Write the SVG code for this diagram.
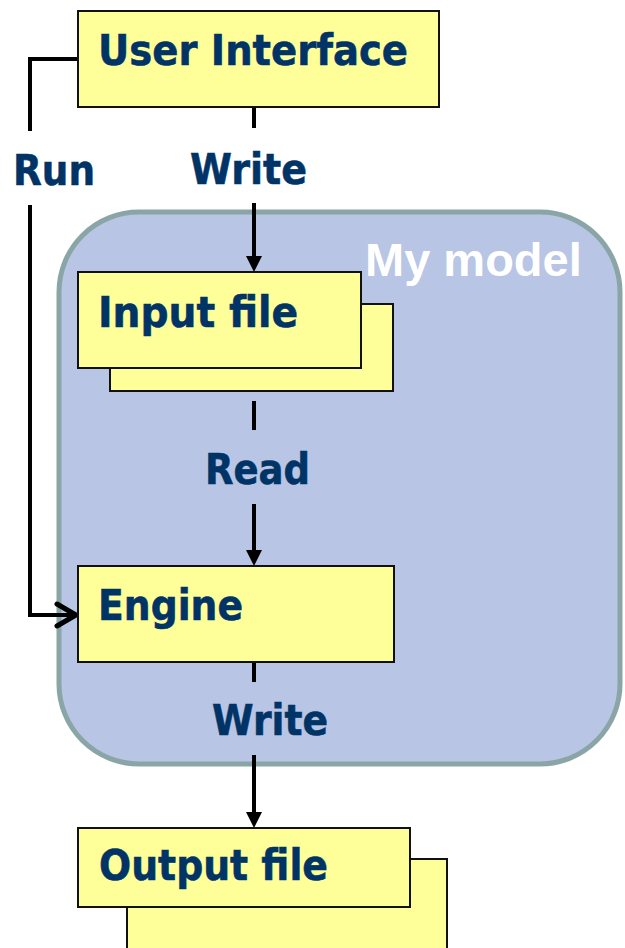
<svg xmlns="http://www.w3.org/2000/svg" width="625" height="948" viewBox="0 0 625 948">
<defs>
<style>
.box{fill:#FFFF99;stroke:#111;stroke-width:2}
.lbl{font-family:"DejaVu Sans","Liberation Sans",sans-serif;font-weight:bold;font-size:43px;fill:#003366;stroke:#003366;stroke-width:0.6}
.ln{stroke:#000;stroke-width:4;fill:none}
.ah{fill:#000}
</style>
</defs>
<rect width="625" height="948" fill="#fff"/>
<g id="mymodel">
<rect x="59" y="212" width="561" height="552" rx="80" ry="80" fill="#B8C5E4" stroke="#8AA5A6" stroke-width="5"/>
<text x="365" y="276" font-family="Liberation Sans,Arial,sans-serif" font-weight="bold" font-size="47" fill="#fff">My model</text>
</g>
<g id="connectors">
<path class="ln" d="M78,59 H30 V131"/>
<path class="ln" d="M30,205 V615 H76"/>
<path d="M57,604 L76,615 L57,626" fill="none" stroke="#000" stroke-width="5" stroke-linecap="round" stroke-linejoin="miter"/>
<path class="ln" d="M254,107 V128"/>
<path class="ln" d="M254,203 V258"/>
<path class="ah" d="M246,256 L262,256 L254,272 Z"/>
<path class="ln" d="M254,401 V430"/>
<path class="ln" d="M254,504 V552"/>
<path class="ah" d="M246,550 L262,550 L254,566 Z"/>
<path class="ln" d="M254,662 V682"/>
<path class="ln" d="M254,755 V814"/>
<path class="ah" d="M246,812 L262,812 L254,828 Z"/>
<text class="lbl" x="13" y="185" textLength="82" lengthAdjust="spacingAndGlyphs">Run</text>
<text class="lbl" x="190" y="184" textLength="117" lengthAdjust="spacingAndGlyphs">Write</text>
<text class="lbl" x="205" y="484" textLength="105" lengthAdjust="spacingAndGlyphs">Read</text>
<text class="lbl" x="212" y="735" textLength="116" lengthAdjust="spacingAndGlyphs">Write</text>
</g>
<g id="userinterface">
<rect class="box" x="78" y="11" width="361" height="96"/>
<text class="lbl" x="98" y="65" textLength="310" lengthAdjust="spacingAndGlyphs">User Interface</text>
</g>
<g id="inputfile">
<rect class="box" x="110" y="304" width="283" height="87"/>
<rect class="box" x="78" y="272" width="283" height="96"/>
<text class="lbl" x="98" y="327" textLength="200" lengthAdjust="spacingAndGlyphs">Input file</text>
</g>
<g id="engine">
<rect class="box" x="78" y="566" width="316" height="96"/>
<text class="lbl" x="98" y="620" textLength="145" lengthAdjust="spacingAndGlyphs">Engine</text>
</g>
<g id="outputfile">
<rect class="box" x="127" y="859" width="320" height="100"/>
<rect class="box" x="78" y="828" width="332" height="79"/>
<text class="lbl" x="99" y="880" textLength="229" lengthAdjust="spacingAndGlyphs">Output file</text>
</g>
</svg>
